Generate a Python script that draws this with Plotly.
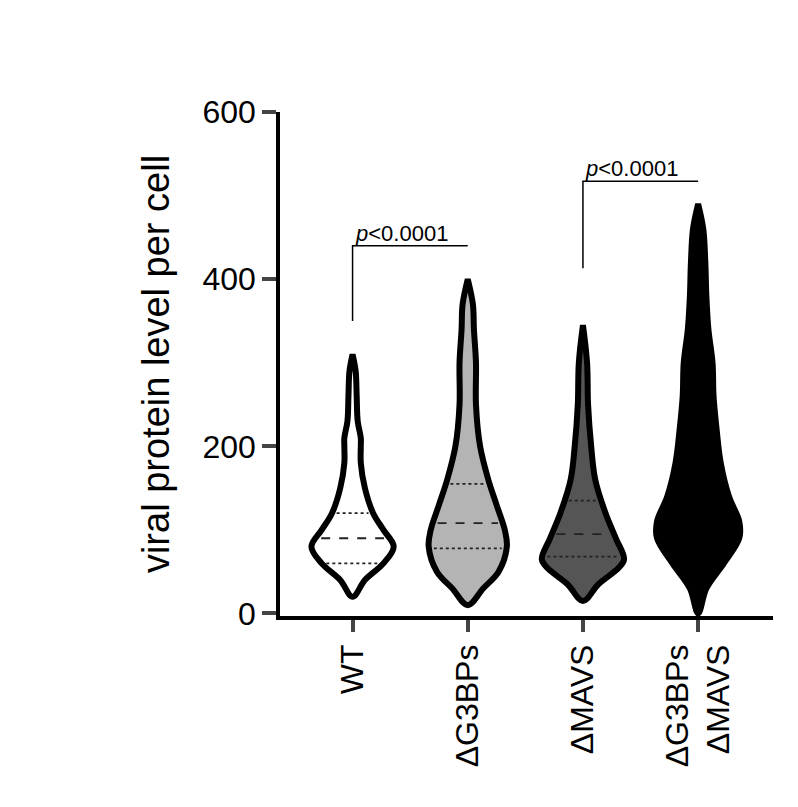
import plotly.graph_objects as go

groups = ["WT", "ΔG3BPs", "ΔMAVS", "ΔG3BPs<br>ΔMAVS"]
fills = ["#ffffff", "#b4b4b4", "#555555", "#000000"]

# violin profiles: y level and half-width (px)
prof_y = [
    [20, 40, 60, 80, 100, 120, 150, 180, 200, 210, 230, 260, 290, 310],
    [10, 30, 50, 80, 100, 130, 160, 200, 250, 300, 340, 370, 400],
    [15, 35, 55, 65, 90, 120, 160, 200, 250, 300, 345],
    [0, 30, 60, 90, 110, 140, 180, 220, 260, 300, 340, 380, 420, 460, 490],
]
prof_w = [
    [0, 12, 30, 40, 30, 20, 12, 8, 8, 8, 5, 4, 3, 0],
    [0, 15, 30, 38, 36, 28, 20, 12, 8, 8, 6, 5, 0],
    [0, 15, 35, 40, 32, 22, 12, 8, 5, 4, 0],
    [0, 8, 25, 40, 40, 30, 22, 18, 15, 14, 10, 8, 7, 5, 0],
]
medians = [90, 108, 95, None]
q1 = [60, 78, 68, None]
q3 = [120, 155, 135, None]

px_per_unit = 112.0

fig = go.Figure()
for i, g in enumerate(groups):
    ys = prof_y[i]
    ws = [w / px_per_unit for w in prof_w[i]]
    xs = [i + w for w in ws] + [i - w for w in reversed(ws)]
    yy = ys + list(reversed(ys))
    fig.add_trace(go.Scatter(x=xs, y=yy, fill="toself", fillcolor=fills[i],
                             mode="lines", line=dict(color="black", width=6, shape="spline"),
                             showlegend=False, hoverinfo="skip"))
    for val, dash in [(medians[i], "dash"), (q1[i], "dot"), (q3[i], "dot")]:
        if val is None:
            continue
        for k in range(len(ys) - 1):
            if ys[k] <= val <= ys[k + 1]:
                t = (val - ys[k]) / (ys[k + 1] - ys[k])
                w = ws[k] + t * (ws[k + 1] - ws[k])
                break
        fig.add_trace(go.Scatter(x=[i - w + 0.04, i + w - 0.04], y=[val, val], mode="lines",
                                 line=dict(color="#222222", width=1.8, dash=dash),
                                 showlegend=False, hoverinfo="skip"))

# significance brackets
brackets = [(0, 1, 440, 350), (2, 3, 517, 413)]
for a, b, top, leg in brackets:
    fig.add_trace(go.Scatter(x=[a, a, b], y=[leg, top, top], mode="lines",
                             line=dict(color="black", width=1.5),
                             showlegend=False, hoverinfo="skip"))
    fig.add_annotation(x=a, y=top, text="<i>p</i><0.0001", showarrow=False,
                       xanchor="left", yanchor="bottom", yshift=-2,
                       font=dict(size=22, color="black"))

fig.update_layout(
    width=798, height=807, plot_bgcolor="white", paper_bgcolor="white",
    margin=dict(l=272, r=33, t=104, b=199),
    font=dict(family="Liberation Sans, Arial", color="black"),
    xaxis=dict(range=[-0.63, 3.65], tickvals=list(range(4)), ticktext=groups,
               tickangle=-90, tickfont=dict(size=32), showgrid=False, zeroline=False,
               showline=True, linecolor="black", linewidth=3.5, ticks="outside",
               ticklen=12, tickwidth=3.5),
    yaxis=dict(range=[-3, 600], tickvals=[0, 200, 400, 600], tickfont=dict(size=32),
               showgrid=False, zeroline=False, showline=True, linecolor="black",
               linewidth=3.5, ticks="outside", ticklen=14, tickwidth=3.5,
               title=dict(text="viral protein level per cell", font=dict(size=38), standoff=22)),
)

fig.write_html("out.html")
